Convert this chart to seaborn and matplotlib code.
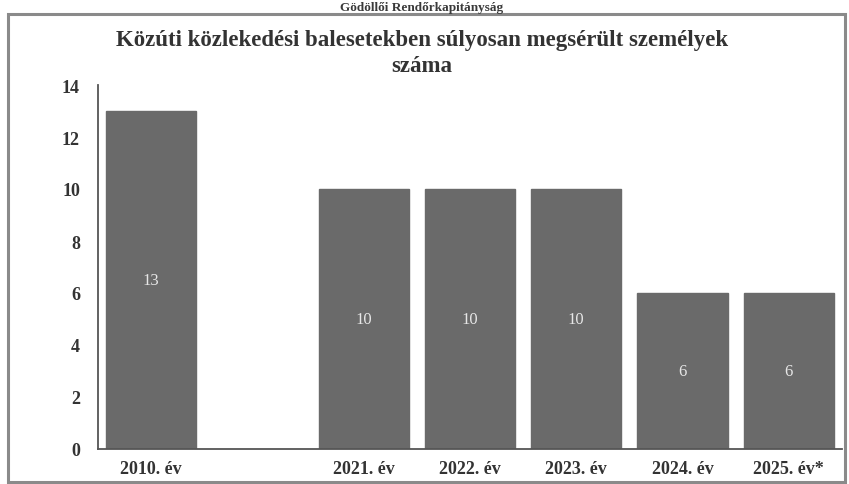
import numpy as np
import pandas as pd
import matplotlib
matplotlib.use("Agg")
import matplotlib.pyplot as plt
import matplotlib.patches as mpatches
import seaborn as sns

# Data
categories = ["2010. év", " ", "2021. év", "2022. év", "2023. év", "2024. év", "2025. év*"]
values = [13, np.nan, 10, 10, 10, 6, 6]
y_ticks = [0, 2, 4, 6, 8, 10, 12, 14]

title = "Közúti közlekedési balesetekben súlyosan megsérült személyek\nszáma"
header = "Gödöllői Rendőrkapitányság"

df = pd.DataFrame({"ev": categories, "fo": values})

sns.set_style("white")
plt.rcParams["font.family"] = ["Liberation Serif", "DejaVu Serif"]

fig = plt.figure(figsize=(8.49, 4.85), dpi=100)
fig.patch.set_facecolor("white")

# outer frame
frame = mpatches.Rectangle((8 / 849, 1 - 483 / 485), 837 / 849, 468 / 485,
                           transform=fig.transFigure, fill=False,
                           edgecolor="#8a8a8a", linewidth=2.2, zorder=0)
fig.patches.append(frame)

# header above the frame
fig.text(0.497, 1 - 14 / 485, header, ha="center", va="bottom",
         fontsize=9.5, fontweight="bold", color="#3a3a3a")

ax = fig.add_axes([98 / 849, 1 - 450 / 485, 744 / 849, 364 / 485])
ax.set_facecolor("none")

bar_color = "#6a6a6a"
sns.barplot(data=df, x="ev", y="fo", order=categories, color=bar_color,
            saturation=1, width=0.85, ax=ax, errorbar=None)
for p in ax.patches:
    p.set_edgecolor(bar_color)

# value labels inside bars
for i, v in enumerate(values):
    if not np.isnan(v):
        ax.text(i, v / 2, f"{int(v)}", ha="center", va="center",
                color="#e6e6e6", fontsize=12)

ax.set_xlim(-0.5, len(categories) - 0.5)
ax.set_ylim(0, 14)
ax.set_yticks(y_ticks)
ax.set_yticklabels([str(t) for t in y_ticks], fontsize=13,
                   fontweight="bold", color="#333333")
ax.set_xticks(range(len(categories)))
ax.set_xticklabels(categories, fontsize=13, fontweight="bold", color="#333333")
ax.set_xticks(np.arange(-0.5, len(categories)), minor=True)
ax.tick_params(axis="x", which="major", length=0, pad=8)
ax.tick_params(axis="x", which="minor", length=5, width=1.2, color="#555555", direction="out")
ax.tick_params(axis="y", length=5, width=1.2, color="#555555", direction="out", pad=8)
ax.set_xlabel("")
ax.set_ylabel("")

for s in ["top", "right"]:
    ax.spines[s].set_visible(False)
for s in ["left", "bottom"]:
    ax.spines[s].set_color("#555555")
    ax.spines[s].set_linewidth(1.3)

fig.text(0.497, 1 - 30 / 485, title, ha="center", va="top", fontsize=16.5,
         fontweight="bold", color="#333333", linespacing=1.3)

fig.savefig("out.png", dpi=100, facecolor="white")
